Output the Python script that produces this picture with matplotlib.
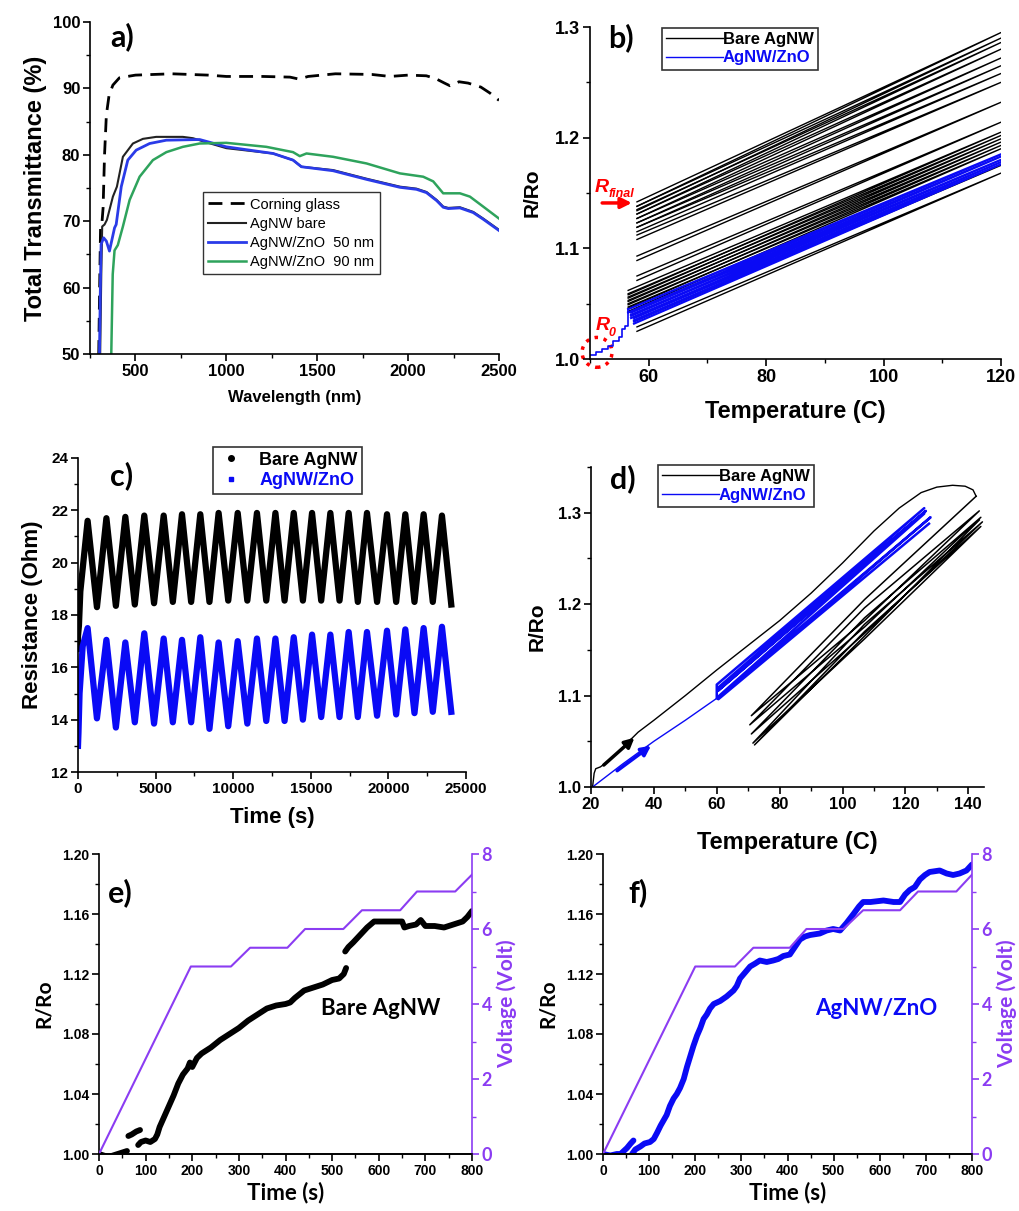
import numpy as np
import matplotlib
matplotlib.use('Agg')
import matplotlib.pyplot as plt
from matplotlib.ticker import MultipleLocator, FormatStrFormatter
from matplotlib.lines import Line2D
from matplotlib.patches import Ellipse

plt.rcParams['font.family'] = ['Liberation Sans', 'DejaVu Sans']
plt.rcParams['font.weight'] = 'bold'
plt.rcParams['axes.labelweight'] = 'bold'
plt.rcParams['axes.linewidth'] = 1.2

CAL = ['Lato', 'DejaVu Sans']
BLUE = '#0a0af5'
BLUE_A = '#2a3be8'
GREEN = '#2ea35c'
PURPLE = '#8b3cf2'
nan = np.nan

# ---- a) transmittance spectra ----
glass_w = [298, 303, 308, 315, 322, 330, 340, 355, 376, 412, 500, 700, 900, 1000, 1200, 1350,
           1400, 1450, 1600, 1800, 1900, 2000, 2100, 2150, 2200, 2230, 2280, 2330, 2400, 2450, 2500]
glass_t = [50, 60, 69, 69.5, 72, 80, 86, 89, 90.5, 91.6, 92, 92.2, 92, 91.8, 91.8, 91.7,
           91.4, 91.8, 92.2, 92.1, 91.8, 92, 91.9, 91.5, 90.8, 90.4, 91, 90.8, 90.2, 89.3, 88.2]
bare_w = [306, 312, 317, 330, 343, 360, 376, 398, 431, 486, 541, 614, 761, 816, 900, 1000,
          1257, 1367, 1413, 1587, 1771, 1955, 2046, 2101, 2157, 2193, 2221, 2285, 2358, 2413, 2500]
bare_t = [50, 62, 69.2, 69.5, 70.2, 72, 73.7, 75.2, 79.7, 81.7, 82.4, 82.7, 82.7, 82.5, 81.8, 81.0,
          80.2, 79.2, 78.2, 77.7, 76.4, 75.2, 74.9, 74.4, 73.2, 72.2, 72.0, 72.1, 71.4, 70.4, 68.7]
zno50_w = [302, 307, 311, 325, 340, 357, 385, 394, 422, 458, 504, 578, 670, 853, 1000,
           1257, 1367, 1413, 1587, 1771, 1955, 2046, 2101, 2157, 2193, 2221, 2285, 2358, 2413, 2500]
zno50_t = [50, 60, 66.5, 67.5, 67.0, 65.5, 69.0, 69.5, 75.2, 79.2, 80.7, 81.7, 82.2, 82.3, 81.2,
           80.2, 79.2, 78.2, 77.6, 76.3, 75.1, 74.8, 74.3, 73.1, 72.1, 71.9, 72.0, 71.3, 70.3, 68.6]
zno90_w = [367, 375, 385, 403, 431, 468, 523, 596, 670, 761, 853, 1000, 1220, 1367, 1404, 1441,
           1587, 1771, 1955, 2083, 2138, 2193, 2285, 2340, 2413, 2500]
zno90_t = [50, 62, 65.6, 66.4, 69.2, 73.2, 76.7, 79.2, 80.4, 81.2, 81.7, 81.8, 81.2, 80.4, 79.8, 80.2,
           79.7, 78.7, 77.2, 76.7, 76.0, 74.2, 74.2, 73.7, 72.2, 70.4]

# ---- b) R/Ro vs temperature, repeated cycles ----
b_black_t0 = [58, 58, 58, 58, 58, 58, 58, 58, 58, 58, 56.5, 56.5, 56.5, 56.5, 56.5, 56.5, 57.5, 58]
b_black_r0 = [1.142, 1.138, 1.135, 1.131, 1.127, 1.123, 1.119, 1.112, 1.093, 1.075,
              1.062, 1.059, 1.056, 1.053, 1.050, 1.047, 1.038, 1.029]
b_black_r1 = [1.295, 1.290, 1.286, 1.280, 1.272, 1.265, 1.258, 1.250, 1.232, 1.214,
              1.205, 1.202, 1.199, 1.196, 1.193, 1.190, 1.175, 1.168]
b_blue_first_t = [50, 51, 52, 53, 54, 55, 55.5, 56, 56.5]
b_blue_first_r = [1.004, 1.006, 1.009, 1.012, 1.016, 1.020, 1.027, 1.030, 1.045]
b_blue_t0 = [56.5, 57, 57, 57.5, 57.5]
b_blue_r0 = [1.045, 1.042, 1.040, 1.037, 1.035]
b_blue_r1 = [1.185, 1.183, 1.180, 1.178, 1.176]

# ---- c) resistance vs time ----
c_peak_t = [620, 1830, 3050, 4270, 5520, 6700, 7880, 9060, 10290, 11530,
            12720, 13900, 15080, 16260, 17440, 18620, 19910, 21090, 22270, 23450]
c_trough_t = [1220, 2440, 3660, 4900, 6110, 7290, 8470, 9680, 10910, 12130,
              13310, 14490, 15670, 16850, 18030, 19270, 20500, 21680, 22860, 24050]
c_black_peak = [21.6, 21.7, 21.75, 21.8, 21.8, 21.85, 21.85, 21.9, 21.9, 21.9,
                21.9, 21.9, 21.9, 21.9, 21.9, 21.9, 21.85, 21.85, 21.85, 21.8]
c_black_trough = [18.3, 18.35, 18.4, 18.45, 18.5, 18.5, 18.5, 18.55, 18.55, 18.55,
                  18.55, 18.55, 18.55, 18.55, 18.5, 18.5, 18.5, 18.5, 18.5, 18.4]
c_blue_peak = [17.5, 17.05, 16.95, 17.3, 17.1, 17.05, 17.15, 16.95, 17.0, 17.1,
               17.1, 17.15, 17.25, 17.25, 17.35, 17.35, 17.4, 17.45, 17.5, 17.55]
c_blue_trough = [14.05, 13.7, 13.9, 13.85, 13.9, 13.9, 13.65, 13.75, 13.85, 13.95,
                 13.95, 14.0, 14.1, 14.1, 14.1, 14.15, 14.2, 14.25, 14.3, 14.3]
c_black_start_t = [0, 0, 60, 150]
c_black_start_r = [16.7, 17.2, 17.6, 18.9]
c_blue_start_t = [0, 30, 100, 300]
c_blue_start_r = [13.0, 13.5, 15.0, 16.8]

# ---- d) R/Ro vs temperature, extended cycles ----
d_black_first_t = [20.5, 21, 21.5, 23, 26, 30, 35, 40, 50, 60, 70, 80, 90, 100, 110, 118,
                   125, 130, 135, 139, 141.5, 142.5]
d_black_first_r = [1.0, 1.015, 1.02, 1.022, 1.03, 1.043, 1.06, 1.073, 1.1, 1.128, 1.155, 1.182,
                   1.212, 1.245, 1.28, 1.305, 1.322, 1.328, 1.33, 1.329, 1.325, 1.318]
d_black_loop_t = [142.5, 107, 71, 107, 143.5, 107, 70.5, 107, 144, 107, 71, 107, 144.5, 107,
                  71.5, 107, 144, 107, 72, 107, 143.5]
d_black_loop_r = [1.318, 1.205, 1.078, 1.182, 1.302, 1.196, 1.068, 1.175, 1.295, 1.185, 1.058,
                  1.168, 1.290, 1.178, 1.048, 1.162, 1.285, 1.170, 1.046, 1.165, 1.292]
d_blue_first_t = [20.5, 30, 40, 50, 60]
d_blue_first_r = [1.0, 1.025, 1.05, 1.073, 1.097]
d_blue_loop_t = [60, 60, 126, 60.2, 126.5, 60.3, 126, 60.5, 128, 60.5, 127.5]
d_blue_loop_r = [1.097, 1.112, 1.305, 1.108, 1.302, 1.105, 1.299, 1.099, 1.295, 1.096, 1.288]

# ---- e) bare AgNW under voltage steps ----
e_t = [0, 10, 20, 30, 40, 50, 60, nan, 63, 70, 80, 88, nan, 84, 90, 100, 110, 120, 125, 130,
       140, 150, 160, 170, 180, 190, 195, 200, 210, 220, 240, 260, 280, 300, 320, 340, 360,
       380, 400, 410, 420, 440, 460, 480, 500, 515, 525, 530, nan, 528, 535, 545, 560, 575,
       590, 610, 630, 650, 655, 665, 680, 690, 700, 720, 740, 760, 780, 790, 800]
e_r = [1.0, 0.999, 0.998, 0.999, 1.0, 1.001, 1.002, nan, 1.012, 1.013, 1.015, 1.016, nan,
       1.006, 1.008, 1.009, 1.008, 1.010, 1.013, 1.018, 1.025, 1.032, 1.039, 1.047, 1.053,
       1.057, 1.061, 1.058, 1.064, 1.067, 1.071, 1.076, 1.080, 1.084, 1.089, 1.093, 1.097,
       1.099, 1.100, 1.101, 1.104, 1.109, 1.111, 1.113, 1.116, 1.117, 1.120, 1.124, nan,
       1.135, 1.138, 1.141, 1.146, 1.151, 1.155, 1.155, 1.155, 1.155, 1.151, 1.152, 1.153,
       1.156, 1.152, 1.152, 1.151, 1.153, 1.155, 1.158, 1.162]
e_volt_t = [0, 197, 283, 324, 404, 442, 524, 564, 646, 682, 764, 800]
e_volt = [0, 5, 5, 5.5, 5.5, 6, 6, 6.5, 6.5, 7, 7, 7.45]

# ---- f) AgNW/ZnO under voltage steps ----
f_t = [0, 16, 30, 38, 45, 52, 60, 66, nan, 63, 70, 81, 90, 102, 110, 117, 125, 138, 145, 153,
       160, 167, 175, 182, 190, 196, 204, 211, 218, 225, 232, 240, 254, 268, 283, 290, 297,
       308, 319, 330, 340, 355, 369, 380, 391, 405, 416, 427, 438, 449, 470, 485, 499, 514,
       528, 543, 555, 564, 580, 608, 630, 644, 655, 665, 676, 687, 698, 708, 730, 745, 759,
       773, 788, 800]
f_r = [1.0, 0.999, 1.0, 1.0, 1.002, 1.004, 1.007, 1.009, nan, 1.0, 1.003, 1.005, 1.007,
       1.008, 1.010, 1.014, 1.019, 1.026, 1.032, 1.037, 1.040, 1.044, 1.050, 1.058, 1.066,
       1.072, 1.079, 1.084, 1.090, 1.093, 1.097, 1.100, 1.102, 1.105, 1.109, 1.112, 1.117,
       1.121, 1.125, 1.127, 1.129, 1.128, 1.129, 1.130, 1.132, 1.133, 1.138, 1.143, 1.145,
       1.146, 1.147, 1.149, 1.150, 1.149, 1.154, 1.160, 1.165, 1.168, 1.168, 1.169, 1.168,
       1.168, 1.173, 1.176, 1.178, 1.183, 1.186, 1.188, 1.189, 1.187, 1.186, 1.187, 1.189, 1.193]
f_volt_t = [0, 200, 286, 326, 405, 441, 521, 564, 644, 683, 766, 800]
f_volt = [0, 5, 5, 5.5, 5.5, 6, 6, 6.5, 6.5, 7, 7, 7.45]

W, H = 1019, 1211
fig = plt.figure(figsize=(W / 100, H / 100), dpi=100)


def px_axes(l, t, r, b):
    return fig.add_axes([l / W, 1 - b / H, (r - l) / W, (b - t) / H])


def style(ax, size):
    ax.spines['top'].set_visible(False)
    ax.spines['right'].set_visible(False)
    ax.tick_params(which='major', direction='out', length=5, width=1.2, labelsize=size, pad=2)
    ax.tick_params(which='minor', direction='out', length=3, width=1)


def panel_letter(ax, x, y, s):
    ax.text(x, y, s, transform=ax.transAxes, fontsize=22, family=CAL, fontweight='bold',
            va='top', ha='left')


def color_legend(ax, labels, colors, **kw):
    handles = [Line2D([], [], color=c, lw=1) for c in colors]
    leg = ax.legend(handles, labels, fontsize=12, frameon=True, fancybox=False,
                    edgecolor='black', handlelength=3.4, handletextpad=0.0,
                    borderpad=0.25, labelspacing=0.2, borderaxespad=0, **kw)
    leg.get_frame().set_linewidth(1.2)
    for txt, c in zip(leg.get_texts(), colors):
        txt.set_color(c)
    return leg


# ---------------- a ----------------
ax = px_axes(90, 22, 499, 354)
style(ax, 12)
ax.plot(glass_w, glass_t, color='k', lw=2, ls=(0, (5, 3)), label='Corning glass')
ax.plot(bare_w, bare_t, color='#222222', lw=1.5, label='AgNW bare')
ax.plot(zno50_w, zno50_t, color=BLUE_A, lw=2, label='AgNW/ZnO  50 nm')
ax.plot(zno90_w, zno90_t, color=GREEN, lw=1.8, label='AgNW/ZnO  90 nm')
ax.set_xlim(250, 2500)
ax.set_ylim(50, 100)
ax.xaxis.set_major_locator(MultipleLocator(500))
ax.xaxis.set_minor_locator(MultipleLocator(250))
ax.yaxis.set_major_locator(MultipleLocator(10))
ax.yaxis.set_minor_locator(MultipleLocator(5))
ax.set_xlabel('Wavelength (nm)', fontsize=12, labelpad=8)
ax.set_ylabel('Total Transmittance (%)', fontsize=17, labelpad=4)
leg = ax.legend(loc='lower left', bbox_to_anchor=(0.276, 0.241), frameon=True, fancybox=False,
                edgecolor='black', prop={'weight': 'normal', 'size': 10.5}, handlelength=2.6,
                handletextpad=0.3, borderpad=0.35, labelspacing=0.35, borderaxespad=0)
leg.get_frame().set_linewidth(1.0)
panel_letter(ax, 0.05, 1.0, 'a)')

# ---------------- b ----------------
ax = px_axes(590, 27, 1001, 359)
style(ax, 13)
for t0, r0, r1 in zip(b_black_t0, b_black_r0, b_black_r1):
    ax.plot([t0, 120, t0], [r0, r1, r0 - 0.004], color='k', lw=1)
ax.plot(b_blue_first_t, b_blue_first_r, color=BLUE, lw=1.2, drawstyle='steps-post')
for t0, r0, r1 in zip(b_blue_t0, b_blue_r0, b_blue_r1):
    ax.plot([t0, 120, t0], [r0, r1, r0 - 0.003], color=BLUE, lw=1.6)
ax.set_xlim(50, 120)
ax.set_ylim(1.0, 1.3)
ax.xaxis.set_major_locator(MultipleLocator(20))
ax.xaxis.set_minor_locator(MultipleLocator(10))
ax.yaxis.set_major_locator(MultipleLocator(0.1))
ax.yaxis.set_minor_locator(MultipleLocator(0.05))
ax.yaxis.set_major_formatter(FormatStrFormatter('%.1f'))
ax.set_xlabel('Temperature (C)', fontsize=17, labelpad=10)
ax.set_ylabel('R/Ro', fontsize=15, labelpad=10)
color_legend(ax, ['Bare AgNW', 'AgNW/ZnO'], ['black', BLUE], loc='upper left',
             bbox_to_anchor=(0.175, 0.997))
ax.annotate('', xy=(57.6, 1.141), xytext=(51.6, 1.141),
            arrowprops=dict(arrowstyle='-|>', color='red', lw=2.5, mutation_scale=16))
ax.text(50.8, 1.151, 'R', style='italic', color='red', fontsize=14)
ax.text(53.1, 1.146, 'final', style='italic', color='red', fontsize=9)
ax.text(50.9, 1.026, 'R', style='italic', color='red', fontsize=14)
ax.text(53.2, 1.021, '0', style='italic', color='red', fontsize=9)
ax.add_patch(Ellipse((51.2, 1.006), 5.1, 0.027, fill=False, ec='red', lw=2.5, ls=':',
                     clip_on=False))
panel_letter(ax, 0.045, 1.01, 'b)')

# ---------------- c ----------------
ax = px_axes(78, 458, 466, 772)
style(ax, 11)
blk_t, blk_r = list(c_black_start_t), list(c_black_start_r)
blu_t, blu_r = list(c_blue_start_t), list(c_blue_start_r)
for pt, tt, bp, bt, up, ut in zip(c_peak_t, c_trough_t, c_black_peak, c_black_trough,
                                  c_blue_peak, c_blue_trough):
    blk_t += [pt, tt]
    blk_r += [bp, bt]
    blu_t += [pt, tt]
    blu_r += [up, ut]
ax.plot(blk_t, blk_r, color='k', lw=4.5, solid_joinstyle='round')
ax.plot(blu_t, blu_r, color=BLUE, lw=4.5, solid_joinstyle='round')
ax.set_xlim(0, 25000)
ax.set_ylim(12, 24)
ax.xaxis.set_major_locator(MultipleLocator(5000))
ax.xaxis.set_minor_locator(MultipleLocator(2500))
ax.yaxis.set_major_locator(MultipleLocator(2))
ax.yaxis.set_minor_locator(MultipleLocator(1))
ax.set_xlabel('Time (s)', fontsize=16, labelpad=8)
ax.set_ylabel('Resistance (Ohm)', fontsize=16, labelpad=6)
handles = [Line2D([], [], color='k', marker='o', ls='none', ms=4),
           Line2D([], [], color=BLUE, marker='s', ls='none', ms=3.5)]
leg = ax.legend(handles, ['Bare AgNW', 'AgNW/ZnO'], loc='upper left', bbox_to_anchor=(0.348, 1.035),
                fontsize=13, frameon=True, fancybox=False, edgecolor='black', handlelength=1.5,
                borderpad=0.25, labelspacing=0.2, borderaxespad=0)
leg.get_frame().set_linewidth(1.2)
leg.get_texts()[1].set_color(BLUE)
panel_letter(ax, 0.082, 0.99, 'c)')

# ---------------- d ----------------
ax = px_axes(591, 467, 984, 787)
style(ax, 12)
ax.plot(d_black_first_t, d_black_first_r, color='k', lw=1)
ax.plot(d_black_loop_t, d_black_loop_r, color='k', lw=1.1)
ax.plot(d_blue_first_t, d_blue_first_r, color=BLUE, lw=1)
ax.plot(d_blue_loop_t, d_blue_loop_r, color=BLUE, lw=1.8)
ax.annotate('', xy=(34.5, 1.056), xytext=(23.4, 1.022),
            arrowprops=dict(arrowstyle='-|>', color='k', lw=2.5, mutation_scale=14))
ax.annotate('', xy=(39.8, 1.047), xytext=(27.6, 1.016),
            arrowprops=dict(arrowstyle='-|>', color=BLUE, lw=2.5, mutation_scale=14))
ax.set_xlim(20, 145)
ax.set_ylim(1.0, 1.35)
ax.xaxis.set_major_locator(MultipleLocator(20))
ax.xaxis.set_minor_locator(MultipleLocator(10))
ax.yaxis.set_major_locator(MultipleLocator(0.1))
ax.yaxis.set_minor_locator(MultipleLocator(0.05))
ax.yaxis.set_major_formatter(FormatStrFormatter('%.1f'))
ax.set_xlabel('Temperature (C)', fontsize=17, labelpad=14)
ax.set_ylabel('R/Ro', fontsize=15, labelpad=8)
color_legend(ax, ['Bare AgNW', 'AgNW/ZnO'], ['black', BLUE], loc='upper left',
             bbox_to_anchor=(0.17, 1.006))
panel_letter(ax, 0.048, 1.01, 'd)')


# ---------------- e / f ----------------
def volt_panel(box, t, r, rc, vt, v, label, letter, lx):
    ax = px_axes(*box)
    style(ax, 10)
    ax.plot(t, r, color=rc, lw=4.2, solid_joinstyle='round', solid_capstyle='round')
    ax.set_xlim(0, 800)
    ax.set_ylim(1.0, 1.2)
    ax.xaxis.set_major_locator(MultipleLocator(100))
    ax.xaxis.set_minor_locator(MultipleLocator(50))
    ax.yaxis.set_major_locator(MultipleLocator(0.04))
    ax.yaxis.set_minor_locator(MultipleLocator(0.02))
    ax.yaxis.set_major_formatter(FormatStrFormatter('%.2f'))
    ax.set_xlabel('Time (s)', fontsize=16, family=CAL, labelpad=3)
    ax.set_ylabel('R/Ro', fontsize=15, family=CAL, labelpad=6)
    ax.text(lx, 1.097, label, color=rc, fontsize=16, family=CAL, fontweight='bold',
            ha='center', va='center')
    ax2 = ax.twinx()
    ax2.plot(vt, v, color=PURPLE, lw=1.5)
    ax2.set_ylim(0, 8)
    ax2.spines['top'].set_visible(False)
    ax2.spines['left'].set_visible(False)
    ax2.spines['right'].set_color(PURPLE)
    ax2.yaxis.set_major_locator(MultipleLocator(2))
    ax2.yaxis.set_minor_locator(MultipleLocator(1))
    ax2.tick_params(which='major', direction='out', length=5, width=1.2, colors=PURPLE, pad=2)
    ax2.tick_params(which='minor', direction='out', length=3, width=1, colors=PURPLE)
    for lbl in ax2.get_yticklabels():
        lbl.set_fontfamily(CAL)
        lbl.set_fontsize(13)
    ax2.set_ylabel('Voltage (Volt)', color=PURPLE, fontsize=15, family=CAL, labelpad=3)
    panel_letter(ax, letter[1], 0.92, letter[0])


volt_panel((99, 854, 472, 1154), e_t, e_r, 'black', e_volt_t, e_volt, 'Bare AgNW',
           ('e)', 0.024), 605)
volt_panel((603, 854, 972, 1154), f_t, f_r, BLUE, f_volt_t, f_volt, 'AgNW/ZnO',
           ('f)', 0.068), 593)

fig.savefig('out.png', dpi=100)
